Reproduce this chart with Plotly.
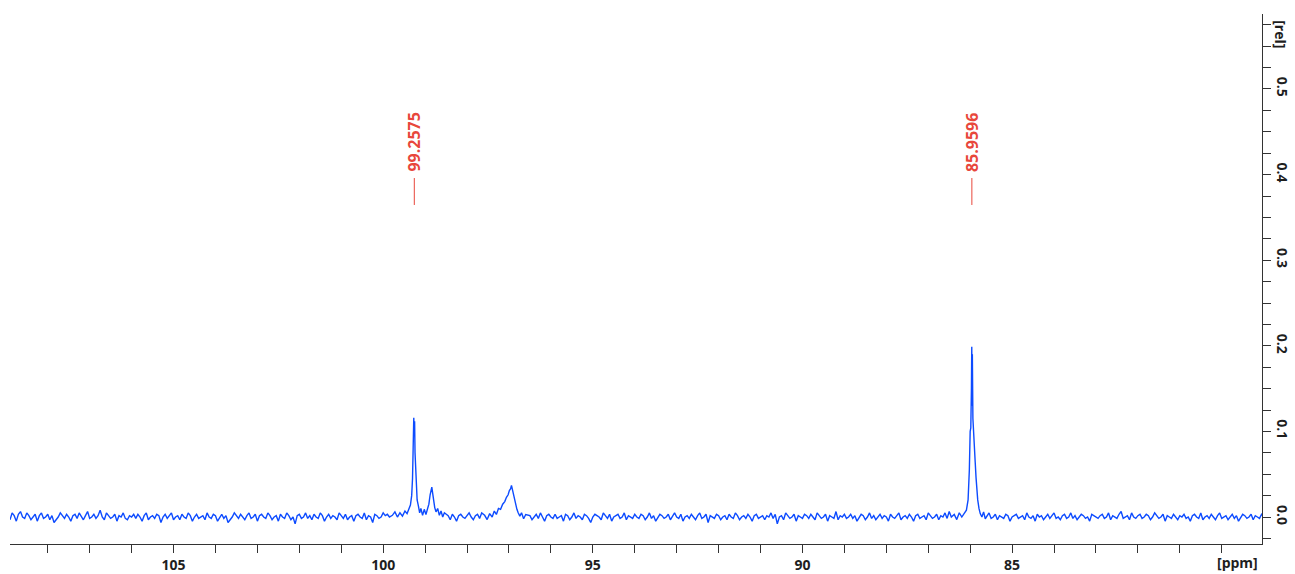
import plotly.graph_objects as go

# ---- data -----------------------------------------------------------------
# baseline grid: first point and spacing (ppm) of the acquired spectrum
grid_start_ppm = 108.9
grid_step_ppm = 0.05
# size of one baseline noise unit in [rel]
noise_unit = 0.0016
# baseline noise in noise units; None where a peak list takes over
baseline_noise = [
    -2, 3, 1, -3, 2, 4, 0, -1, 3, 1, -2, 0, 2, -3, 1, 3, -1, 0, 2, -2,
    1, -4, -2, 0, 3, 1, -1, 2, 0, -3, 1, 2, -1, 3, 0, -2, 1, 4, -1, 0,
    2, -1, 1, 5, 0, -2, 3, 1, -1, 0, 2, -3, 1, 0, 3, -1, -2, 1, 0, 2,
    -1, 2, 0, -3, 1, 3, -2, 0, 1, -1, 2, 1, -4, 0, 2, -1, 1, 3, -2, 0,
    1, -2, 2, 0, -1, 3, 1, -3, 0, 2, -1, 0, 1, -2, 3, 0, -1, 2, 1, -3,
    0, 2, -1, 1, -4, -2, 0, 3, 1, -1, 2, 0, -2, 1, 3, -1, 0, 2, -3, 1,
    2, 0, -1, 3, 1, -2, 0, 1, -3, 2, 0, -1, 3, 1, -2, 0, -5, 1, 2, -1,
    0, 3, -1, 1, -2, 2, 0, -1, 3, 1, -3, 0, 2, -1, 1, 0, -2, 3, 1, -1,
    2, -2, 0, 1, -3, 1, 2, 0, -1, 3, -2, 1, 0, -4, 2, 1, -1, 0, 3, 1,
    2, 0, None, None, None, None, None, None, None, None, None, None, None, None, None, None, None, None, None, None,
    None, None, None, None, None, None, None, None, None, 1, -2, 2, 0, -3, 1, 2, 0, -1, 1, 3,
    0, -2, 1, 2, -1, 3, None, None, None, None, None, None, None, None, None, None, None, None, None, None,
    None, None, None, None, None, None, None, None, 1, -2, 0, 2, -1, 3, 0, -3, 1, 2, 0, -1,
    2, -1, 0, 1, -3, 2, 1, -2, 0, 3, -1, 1, 0, -2, 2, 1, -1, -4, 0, 2,
    1, 0, -2, 3, 1, -1, 2, -3, 0, 1, 2, -1, 0, 3, -2, 1, 0, -1, 2, 0,
    -1, 2, 1, -2, 0, 3, -1, 1, -3, 0, 2, 1, -1, 0, 2, -2, 1, 3, 0, -1,
    2, -3, 0, 1, -1, 2, 0, -2, 1, 3, -1, 0, 2, -4, 1, 0, -1, 2, 1, -2,
    0, 1, -2, 2, 0, -1, 3, 1, -2, 0, 1, -1, 2, 0, -3, 1, 2, -1, 0, 1,
    -2, 1, 0, 3, -1, 2, -5, 0, 1, -2, 3, 1, -1, 0, 2, -3, 1, 0, -1, 2,
    1, -1, 2, 0, -2, 3, 1, -1, 0, 2, -3, 1, 0, -1, 4, -2, 1, 0, 2, -1,
    0, 2, -1, 1, -3, 0, 2, 1, -2, 0, 3, -1, 1, -2, 0, 2, -1, 1, 0, -3,
    2, 0, -1, 1, 3, -2, 0, 1, -1, 2, 0, -3, 1, 2, -1, 0, 1, -2, 3, 1,
    -1, 0, 2, -2, 1, 0, 3, -1, 4, 0, None, None, None, None, None, None, None, None, None, None,
    None, None, None, None, None, None, None, 3, -1, 0, 2, -2, 1, 0, -1, 2, 1, -3, 0, 1,
    2, -1, 0, 1, -2, 3, 0, -1, 1, -3, 2, 0, 1, -2, 0, 2, -1, 1, 3, -1,
    0, -2, 1, 2, -1, 0, 3, -1, 1, -2, 0, 2, 1, -1, 0, -3, 2, 1, 0, -1,
    1, 2, -1, 0, 3, -2, 1, 0, -1, 2, 4, -1, 0, 1, -2, 3, 0, -1, 1, 2,
    -1, 0, 2, 1, -2, 0, 3, 1, -1, 0, 2, -3, 1, 0, -1, 2, 0, -2, 1, 0,
    2, -1, 0, -3, 1, 2, 0, -1, 3, -2, 0, 1, -1, 2, 0, -2, 1, 3, -1, 0,
    1, -2, 0, 2, -1, 1, -3, 0, 2, 1, -1, 0, 2, -2, 1, 0, -1, 2, 0, 1,
]

# peak region around 99.26 / 98.83 ppm
peak_a_ppm = [99.78, 99.72, 99.66, 99.60, 99.54, 99.48, 99.43, 99.39, 99.35, 99.32,
              99.30, 99.285, 99.27, 99.26, 99.25, 99.24, 99.225, 99.21, 99.19, 99.16,
              99.13, 99.10, 99.06, 99.02, 98.98, 98.94, 98.91, 98.88, 98.86, 98.84,
              98.82, 98.80, 98.77, 98.74, 98.70, 98.66, 98.62, 98.58, 98.54]
peak_a_int = [0.002, 0.006, 0.000, 0.005, 0.001, 0.007, 0.004, 0.010, 0.014, 0.025,
              0.045, 0.080, 0.116, 0.095, 0.112, 0.075, 0.050, 0.032, 0.020, 0.013,
              0.005, 0.010, 0.002, 0.009, 0.003, 0.010, 0.015, 0.026, 0.033, 0.035,
              0.028, 0.018, 0.011, 0.006, 0.010, 0.002, 0.007, 0.000, 0.005]

# broad peak around 96.95 ppm
peak_b_ppm = [97.58, 97.52, 97.46, 97.40, 97.35, 97.30, 97.25, 97.20, 97.15, 97.10,
              97.06, 97.02, 96.99, 96.96, 96.94, 96.92, 96.90, 96.87, 96.84, 96.81,
              96.78, 96.74, 96.70, 96.65, 96.60]
peak_b_int = [0.002, -0.003, 0.004, 0.000, 0.007, 0.003, 0.010, 0.009, 0.015, 0.018,
              0.023, 0.026, 0.031, 0.033, 0.037, 0.032, 0.031, 0.023, 0.016, 0.009,
              0.005, 0.001, 0.005, -0.002, 0.003]

# sharp peak around 85.96 ppm
peak_c_ppm = [86.38, 86.32, 86.26, 86.20, 86.14, 86.09, 86.05, 86.02, 86.00, 85.985,
              85.970, 85.962, 85.955, 85.948, 85.935, 85.92, 85.90, 85.88, 85.86, 85.84,
              85.82, 85.79, 85.76, 85.72, 85.68, 85.64]
peak_c_int = [0.003, -0.003, 0.005, 0.000, 0.004, 0.008, 0.020, 0.055, 0.100, 0.104,
              0.150, 0.199, 0.130, 0.190, 0.115, 0.095, 0.082, 0.064, 0.046, 0.032,
              0.020, 0.010, 0.004, 0.000, 0.006, -0.002]

peak_labels = [99.2575, 85.9596]

x_tick_major = [105, 100, 95, 90, 85]
y_tick_major = [0.0, 0.1, 0.2, 0.3, 0.4, 0.5]

# ---- assemble the spectrum ---------------------------------------------------
pts = []
for i, v in enumerate(baseline_noise):
    if v is None:
        continue
    pts.append((grid_start_ppm - i * grid_step_ppm, v * noise_unit))
for xs, ys in ((peak_a_ppm, peak_a_int), (peak_b_ppm, peak_b_int), (peak_c_ppm, peak_c_int)):
    pts.extend(zip(xs, ys))
pts.sort(key=lambda p: -p[0])
spec_x = [p[0] for p in pts]
spec_y = [p[1] for p in pts]

BLUE = "#0d4bff"
RED = "#e8473b"
AXIS = "#333333"
TXT = "#1e1e1e"
FONT = "Open Sans"

fig = go.Figure()
fig.add_trace(go.Scatter(x=spec_x, y=spec_y, mode="lines",
                         line=dict(color=BLUE, width=1.4), hoverinfo="skip",
                         showlegend=False))

# x ticks every 1 ppm, labelled every 5
x_ticks = list(range(108, 79, -1))
x_text = [str(v) if v in x_tick_major else "" for v in x_ticks]
y_ticks = [round(k * 0.025, 3) for k in range(-1, 24)]
y_text = [f"{v:.1f}" if any(abs(v - m) < 1e-9 for m in y_tick_major) else "" for v in y_ticks]

for p in peak_labels:
    fig.add_shape(type="line", xref="x", yref="y", x0=p, x1=p, y0=0.3645, y1=0.396,
                  line=dict(color=RED, width=1))
    fig.add_annotation(x=p, y=0.401, xref="x", yref="y", text=f"{p:.4f}",
                       textangle=-90, showarrow=False, yanchor="bottom", xanchor="center",
                       font=dict(family=FONT, size=16, color=RED, weight=700))

fig.add_annotation(x=1.0, xref="paper", y=-0.0315, yref="y", xshift=-25, yshift=-18,
                   text="[ppm]", showarrow=False, xanchor="center", yanchor="middle",
                   font=dict(family=FONT, size=14, color=TXT, weight=700))
fig.add_annotation(x=1.0, xref="paper", y=0.564, yref="y", xshift=19,
                   text="[rel]", textangle=90, showarrow=False, xanchor="center", yanchor="middle",
                   font=dict(family=FONT, size=14, color=TXT, weight=700))

fig.update_layout(
    width=1295, height=574,
    margin=dict(l=10, r=33, t=14, b=30, autoexpand=False),
    paper_bgcolor="white", plot_bgcolor="white",
    xaxis=dict(range=[108.9, 79.04], showgrid=False, zeroline=False,
               showline=True, linecolor=AXIS, linewidth=1,
               ticks="outside", ticklen=8, tickcolor=AXIS, tickwidth=1,
               tickmode="array", tickvals=x_ticks, ticktext=x_text,
               tickfont=dict(family=FONT, size=14, color=TXT, weight=700),
               automargin=False),
    yaxis=dict(range=[-0.0315, 0.5876], side="right", showgrid=False, zeroline=False,
               showline=True, linecolor=AXIS, linewidth=1,
               ticks="outside", ticklen=8, tickcolor=AXIS, tickwidth=1,
               tickmode="array", tickvals=y_ticks, ticktext=y_text, tickangle=90,
               tickfont=dict(family=FONT, size=14, color=TXT, weight=700),
               automargin=False),
)

fig.write_html("out.html")
